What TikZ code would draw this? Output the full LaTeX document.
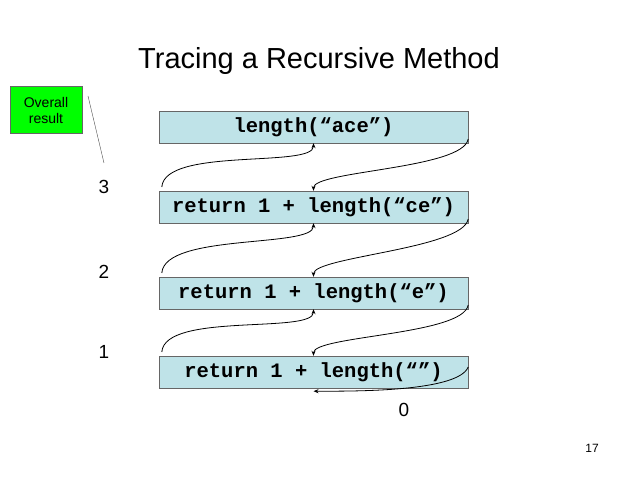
\documentclass[tikz,border=0pt]{standalone}
\usepackage{fontspec}
\setmainfont{Liberation Sans}
\newfontfamily\cour{Liberation Mono}
\usetikzlibrary{arrows.meta}
\begin{document}
\begin{tikzpicture}[x=1pt,y=-1pt,
  callbox/.style={draw=black!60,fill={rgb,255:red,191;green,227;blue,232},minimum width=309pt,minimum height=32pt,inner sep=0pt,font=\cour\bfseries\fontsize{20.5}{22}\selectfont},
  flow/.style={thick,-{Stealth[length=5pt,width=4pt]}},
  num/.style={font=\fontsize{19}{21}\selectfont}]
\useasboundingbox (0,0) rectangle (638,478);
\node[font=\fontsize{29}{33}\selectfont] (title) at (319,61) {Tracing a Recursive Method};
\node[callbox] (b1) at (313.5,127) {length(“ace”)};
\node[callbox] (b2) at (313.5,207) {return 1 + length(“ce”)};
\node[callbox] (b3) at (313.5,293) {return 1 + length(“e”)};
\node[callbox] (b4) at (313.5,372) {return 1 + length(“”)};
\node[draw=black!60,fill={rgb,255:red,0;green,255;blue,0},minimum width=72pt,minimum height=47pt,align=center,font=\fontsize{14}{16}\selectfont] (ov) at (46,110) {Overall\\result};
\node[num] (n3) at (104,187) {3};
\node[num] (n2) at (104,272) {2};
\node[num] (n1) at (104,352) {1};
\node[num] (n0) at (404,410) {0};
\node[font=\fontsize{12}{14}\selectfont] (pg) at (592,448) {17};
\coordinate (lt) at (88,96);
\coordinate (lb) at (104,163);
\draw[black!70] (lt) -- (lb);
% calls (downward, from right edge)
\draw[flow] (b1.east) ++(0,12) .. controls +(-5,30) and +(0,-20) .. (b2.north);
\draw[flow] (b2.east) ++(0,12) .. controls +(-5,30) and +(0,-20) .. (b3.north);
\draw[flow] (b3.east) ++(0,12) .. controls +(-5,30) and +(0,-20) .. (b4.north);
\draw[flow] (b4.east) ++(0,-5) .. controls +(-10,25) and +(40,0) .. ([xshift=0pt,yshift=-3pt]b4.south);
% returns (upward, from left edge)
\draw[flow] (b2.west) ++(3,-20) ++(0,0) coordinate (s2) (b2.west) ++(3,-20) .. controls +(3,-40) and +(0,25) .. (b1.south);
\draw[flow] (b3.west) ++(3,-20) .. controls +(3,-40) and +(0,25) .. (b2.south);
\draw[flow] (b4.west) ++(3,-20) .. controls +(3,-40) and +(0,25) .. (b3.south);
\end{tikzpicture}
\end{document}
